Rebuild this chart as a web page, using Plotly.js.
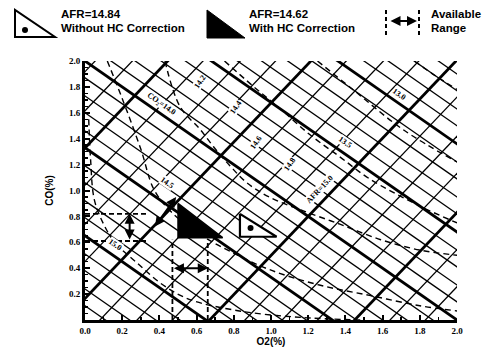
<!DOCTYPE html>
<html><head><meta charset="utf-8">
<script src="https://cdn.plot.ly/plotly-3.0.1.min.js"></script>
<style>html,body{margin:0;padding:0;background:#fff}#chart{width:486px;height:352px}</style>
</head><body><div id="chart"></div>
<script>
// ---- Data (O2 %, CO %) ----
// CO2 iso-lines (down-right): CO value where each line meets O2 = 0
const co2Slope = -1.0;
const co2ThinIntercepts = [0.11,0.24,0.38,0.51,0.79,0.92,1.06,1.19,1.46,1.60,1.73,1.87,2.14,2.27,2.41,2.54,2.82,2.95,3.09,3.22,3.50,3.63,3.77,3.90];
const co2ThickIntercepts = [0.65,1.33,2.0,2.68,3.36];
// AFR iso-lines (up-right): O2 value where each line meets CO = 0
const afrSlope = 1.51;
const afrThinIntercepts = [-1.27,-1.07,-0.69,-0.49,-0.30,0.08,0.28,0.47,0.86,1.06,1.25,1.64,1.83];
const afrThickIntercepts = [-0.88,-0.11,0.67,1.45];
// HC-corrected (dashed) curves
const curve1O2 = [0.02,0.03,0.05,0.10,0.16,0.28,0.42,0.56,0.83,1.16,1.48];
const curve1CO = [1.55,1.24,0.93,0.74,0.60,0.44,0.27,0.16,0.07,0.02,0.0];
const curve2O2 = [0.12,0.20,0.30,0.37,0.46,0.62,0.78,0.99,1.26,1.53,1.80,2.0];
const curve2CO = [2.0,1.71,1.32,1.01,0.84,0.66,0.53,0.39,0.27,0.19,0.11,0.07];
const curve3O2 = [0.43,0.51,0.62,0.69,0.78,0.87,0.99,1.16,1.37,1.59,1.80,2.0];
const curve3CO = [2.0,1.65,1.47,1.34,1.19,1.06,0.95,0.85,0.74,0.62,0.54,0.50];
const curve4O2 = [0.75,0.90,1.05,1.21,1.37,1.53,1.80,2.0];
const curve4CO = [2.0,1.81,1.63,1.43,1.26,1.09,0.88,0.75];
const curve5O2 = [1.25,1.44,1.71,2.0];
const curve5CO = [2.0,1.78,1.47,1.22];
const curve6O2 = [1.77,1.89,2.0];
const curve6CO = [2.0,1.88,1.78];
// Operating points (triangles)
const withHC_O2 = [0.50,0.50,0.74];
const withHC_CO = [0.90,0.636,0.636];
const withoutHC_O2 = [0.833,0.833,1.03];
const withoutHC_CO = [0.82,0.643,0.643];
const withoutHCDot = [0.89,0.71];
// Available ranges
const rangeWithHC_O2 = [0.47,0.66];
const rangeWithHC_COtop = 0.62;
const rangeWithHC_arrowCO = 0.40;
const rangeWithoutHC_CO = [0.61,0.82];
const rangeWithoutHC_O2end = 0.34;
const rangeWithoutHC_arrowO2 = 0.24;
const diagArrow = [[0.37,0.71],[0.49,0.95]];
// Chart labels
const labelText = ['15.0','14.5','CO\u2082=14.0','13.5','13.0','14.2','14.4','14.6','14.8','AFR=15.0'];
const labelO2 = [0.16,0.44,0.41,1.40,1.69,0.62,0.81,0.92,1.10,1.26];
const labelCO = [0.58,1.06,1.67,1.37,1.74,1.84,1.64,1.37,1.20,1.01];
const labelAngle = [35,35,35,35,35,-55,-55,-55,-55,-47];
// Axis ticks
const xTicks = [0,0.2,0.4,0.6,0.8,1.0,1.2,1.4,1.6,1.8,2.0];
const xTickText = ['0.0','0.2','0.4','0.6','0.8','1.0','1.2','1.4','1.6','1.8','2.0'];
const yTicks = [0.2,0.4,0.6,0.8,1.0,1.2,1.4,1.6,1.8,2.0];
const yTickText = ['0.2','0.4','0.6','0.8','1.0','1.2','1.4','1.6','1.8','2.0'];

// ---- Build traces ----
const traces = [];
function lineTrace(xs, ys, w, dash){
  return {type:'scatter', mode:'lines', x:xs, y:ys, hoverinfo:'skip', showlegend:false,
    line:{color:'#000', width:w, dash:dash||'solid'}};
}
const X0 = -2, X1 = 4;
co2ThinIntercepts.forEach(a => traces.push(lineTrace([X0,X1],[a+co2Slope*X0, a+co2Slope*X1],1.3)));
co2ThickIntercepts.forEach(a => traces.push(lineTrace([X0,X1],[a+co2Slope*X0, a+co2Slope*X1],2.8)));
afrThinIntercepts.forEach(b => traces.push(lineTrace([X0,X1],[afrSlope*(X0-b), afrSlope*(X1-b)],1.3)));
afrThickIntercepts.forEach(b => traces.push(lineTrace([X0,X1],[afrSlope*(X0-b), afrSlope*(X1-b)],2.8)));
[[curve1O2,curve1CO],[curve2O2,curve2CO],[curve3O2,curve3CO],[curve4O2,curve4CO],[curve5O2,curve5CO],[curve6O2,curve6CO]]
  .forEach(c => { const t = lineTrace(c[0],c[1],1.4,'6px,4px'); t.line.shape='spline'; traces.push(t); });
// triangles
traces.push({type:'scatter', mode:'lines', x:withHC_O2.concat([withHC_O2[0]]), y:withHC_CO.concat([withHC_CO[0]]),
  fill:'toself', fillcolor:'#000', line:{color:'#000', width:1.5}, hoverinfo:'skip', showlegend:false});
traces.push({type:'scatter', mode:'lines', x:withoutHC_O2.concat([withoutHC_O2[0]]), y:withoutHC_CO.concat([withoutHC_CO[0]]),
  fill:'toself', fillcolor:'#fff', line:{color:'#000', width:2.2}, hoverinfo:'skip', showlegend:false});
traces.push({type:'scatter', mode:'markers', x:[withoutHCDot[0]], y:[withoutHCDot[1]],
  marker:{color:'#000', size:6}, hoverinfo:'skip', showlegend:false});
// range dashed guides
rangeWithHC_O2.forEach(x => traces.push(lineTrace([x,x],[0,rangeWithHC_COtop],1.8,'5px,3px')));
rangeWithoutHC_CO.forEach(y => traces.push(lineTrace([0,rangeWithoutHC_O2end],[y,y],1.8,'5px,3px')));

// ---- Annotations ----
const annotations = [];
labelText.forEach((t,i) => annotations.push({x:labelO2[i], y:labelCO[i], xref:'x', yref:'y', text:t, showarrow:false,
  textangle:labelAngle[i], font:{family:'Liberation Serif', size:8, color:'#000', weight:'bold'}, bgcolor:'#fff', borderpad:0}));
function dblArrow(x0,y0,x1,y1){
  return {x:x1, y:y1, ax:x0, ay:y0, xref:'x', yref:'y', axref:'x', ayref:'y', text:'', showarrow:true,
    arrowhead:2, startarrowhead:2, arrowside:'end+start', arrowsize:1, arrowwidth:2, arrowcolor:'#000'};
}
annotations.push(dblArrow(rangeWithHC_O2[0], rangeWithHC_arrowCO, rangeWithHC_O2[1], rangeWithHC_arrowCO));
annotations.push(dblArrow(rangeWithoutHC_arrowO2, rangeWithoutHC_CO[0], rangeWithoutHC_arrowO2, rangeWithoutHC_CO[1]));
annotations.push(dblArrow(diagArrow[0][0], diagArrow[0][1], diagArrow[1][0], diagArrow[1][1]));

// Legend (paper coordinates; plot area spans px 85..457, 61..320)
const PX = px => (px-85)/372, PY = py => (320-py)/259;
const legFont = {family:'Liberation Sans', size:11.5, color:'#000', weight:'bold'};
const legendText = [['AFR=14.84',59,14],['Without HC Correction',59,28],['AFR=14.62',247,14],['With HC Correction',247,28],['Available',429,14],['Range',429,28]];
legendText.forEach(l => annotations.push({xref:'paper', yref:'paper', x:PX(l[1]), y:PY(l[2]), text:l[0], showarrow:false,
  xanchor:'left', yanchor:'middle', font:legFont}));
annotations.push({xref:'paper', yref:'paper', x:PX(417), y:PY(21), ax:PX(389), ay:PY(21), axref:'paper', ayref:'paper',
  text:'', showarrow:true, arrowhead:2, startarrowhead:2, arrowside:'end+start', arrowsize:1, arrowwidth:2, arrowcolor:'#000'});

const shapes = [
  {type:'path', xref:'paper', yref:'paper', path:`M${PX(15)},${PY(10)} L${PX(15)},${PY(37)} L${PX(55)},${PY(37)} Z`, line:{color:'#000', width:2}, fillcolor:'#fff'},
  {type:'circle', xref:'paper', yref:'paper', x0:PX(22), x1:PX(28), y0:PY(33), y1:PY(27), fillcolor:'#000', line:{width:0}},
  {type:'path', xref:'paper', yref:'paper', path:`M${PX(207)},${PY(10)} L${PX(207)},${PY(38)} L${PX(245)},${PY(38)} Z`, line:{color:'#000', width:1}, fillcolor:'#000'},
  {type:'line', xref:'paper', yref:'paper', x0:PX(386), x1:PX(386), y0:PY(10), y1:PY(37), line:{color:'#000', width:2, dash:'4px,3px'}},
  {type:'line', xref:'paper', yref:'paper', x0:PX(419), x1:PX(419), y0:PY(10), y1:PY(37), line:{color:'#000', width:2, dash:'4px,3px'}}
];

const tickFont = {family:'Liberation Serif', size:9, color:'#000', weight:'bold'};
const layout = {
  width:486, height:352, margin:{l:85, r:29, t:61, b:32}, paper_bgcolor:'#fff', plot_bgcolor:'#fff', showlegend:false,
  xaxis:{range:[0,2], tickvals:xTicks, ticktext:xTickText, tickfont:tickFont, showgrid:false, zeroline:false,
    showline:true, linewidth:3, linecolor:'#000', ticks:'inside', ticklen:5, tickwidth:2, tickcolor:'#000',
    minor:{tickvals:[0.1,0.3,0.5,0.7,0.9,1.1,1.3,1.5,1.7,1.9], ticks:'inside', ticklen:3, tickwidth:1.5, tickcolor:'#000'},
    title:{text:'O2(%)', font:{family:'Liberation Sans', size:10, color:'#000', weight:'bold'}, standoff:4}},
  yaxis:{range:[0,2], tickvals:yTicks, ticktext:yTickText, tickfont:tickFont, showgrid:false, zeroline:false,
    showline:true, linewidth:3, linecolor:'#000', ticks:'inside', ticklen:5, tickwidth:2, tickcolor:'#000',
    minor:{dtick:0.05, ticks:'inside', ticklen:3, tickwidth:1.5, tickcolor:'#000'},
    title:{text:'CO(%)', font:{family:'Liberation Sans', size:10, color:'#000', weight:'bold'}, standoff:14}},
  annotations:annotations, shapes:shapes
};
Plotly.newPlot('chart', traces, layout, {staticPlot:true, displayModeBar:false});
</script></body></html>
